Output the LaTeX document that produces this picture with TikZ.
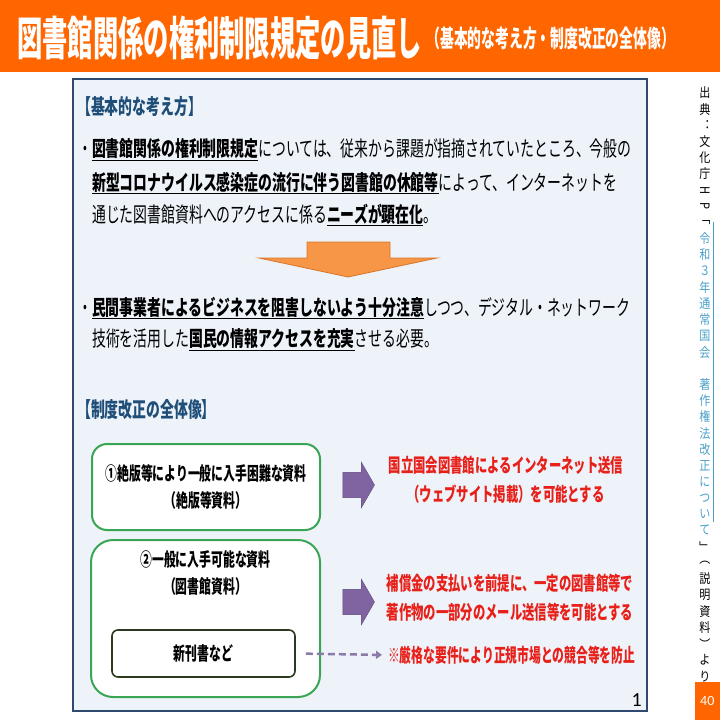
\documentclass[tikz,border=0pt]{standalone}
\usepackage{fontspec}
\usetikzlibrary{arrows.meta,positioning,shapes.arrows,calc}
\setmainfont{Carlito}
\newfontfamily\jpbody[FakeStretch=0.66]{Noto Sans CJK JP}
\newfontfamily\jpbox[FakeStretch=0.64]{Noto Sans CJK JP}
\newfontfamily\jpred[FakeStretch=0.65]{Noto Sans CJK JP}
\newfontfamily\jpnote[FakeStretch=0.62]{Noto Sans CJK JP}
\newfontfamily\jptitle[FakeStretch=0.55]{Noto Sans CJK JP}
\newfontfamily\jpsub[FakeStretch=0.575]{Noto Sans CJK JP}
\newfontfamily\jpside[FakeStretch=0.85]{Noto Sans CJK JP}
\definecolor{SlideOrange}{HTML}{FF6600}
\definecolor{PanelBlue}{HTML}{2F4A6E}
\definecolor{PanelFill}{HTML}{EEF3FA}
\definecolor{HeadBlue}{HTML}{1F4E79}
\definecolor{ArrowOrange}{HTML}{F79646}
\definecolor{ArrowEdge}{HTML}{D9752B}
\definecolor{BoxGreen}{HTML}{3AA655}
\definecolor{BoxOlive}{HTML}{2B3A1E}
\definecolor{ArrowPurple}{HTML}{8064A2}
\definecolor{ArrowPurpleEdge}{HTML}{5F497A}
\definecolor{DashPurple}{HTML}{8C7AA8}
\definecolor{NoteRed}{HTML}{E8201A}
\definecolor{LinkBlue}{HTML}{4A9FC8}
\newcommand{\ulb}[1]{\underline{\textbf{#1}}}

\begin{document}
\begin{tikzpicture}[
      x=1pt,y=-1pt,
      txt/.style={anchor=west,inner sep=0pt,font=\jpbody\fontsize{21}{24}\selectfont},
      head/.style={anchor=west,inner sep=0pt,text=HeadBlue,font=\jpbody\bfseries\fontsize{21}{24}\selectfont},
      gbox/.style={draw=BoxGreen,line width=2pt,fill=white,rounded corners=15pt},
      btxt/.style={align=center,inner sep=0pt,font=\jpbox\bfseries\fontsize{18.5}{27}\selectfont},
      redtxt/.style={align=center,inner sep=0pt,text=NoteRed,font=\jpred\bfseries\fontsize{19}{29}\selectfont},
      blockarrow/.style={single arrow,draw=ArrowPurpleEdge,fill=ArrowPurple,inner sep=12pt,
        minimum width=46pt,minimum height=30pt,single arrow head extend=10pt,single arrow tip angle=120},
      dasharrow/.style={-{Triangle[length=6pt,width=8pt]},DashPurple,line width=2.5pt,dash pattern=on 7pt off 4pt},
      side/.style={inner sep=0pt,font=\jpside\fontsize{13}{13}\selectfont}
    ]
      \useasboundingbox (0,0) rectangle (720,720);
      % header band
      \fill[SlideOrange] (0,0) rectangle (720,72);
      \node[anchor=west,inner sep=0pt,text=white,font=\jptitle\bfseries\fontsize{46}{50}\selectfont] (title) at (17,38) {図書館関係の権利制限規定の見直し};
      \node[anchor=west,inner sep=0pt,text=white,font=\jpsub\bfseries\fontsize{24}{26}\selectfont,right=4pt of title.east] (subtitle) {（基本的な考え方・制度改正の全体像）};

      % main panel
      \node[draw=PanelBlue,line width=1.5pt,fill=PanelFill,minimum width=574pt,minimum height=632pt] (panel) at (360,395) {};
      \node[head] (head1) at (77,107) {【基本的な考え方】};
      \node[txt] (b1a) at (78,150) {・\ulb{図書館関係の権利制限規定}については、従来から課題が指摘されていたところ、今般の};
      \node[txt] (b1b) at (92,183) {\ulb{新型コロナウイルス感染症の流行に伴う図書館の休館等}によって、インターネットを};
      \node[txt] (b1c) at (92,215) {通じた図書館資料へのアクセスに係る\ulb{ニーズが顕在化}。};
      \fill[ArrowOrange,draw=ArrowEdge,line width=0.8pt] (307,242) -- (390,242) -- (390,258) -- (437,258) -- (348,277) -- (259,258) -- (307,258) -- cycle;
      \node[txt] (b2a) at (78,308) {・\ulb{民間事業者によるビジネスを阻害しないよう十分注意}しつつ、デジタル・ネットワーク};
      \node[txt] (b2b) at (92,340) {技術を活用した\ulb{国民の情報アクセスを充実}させる必要。};
      \node[head] (head2) at (77,410) {【制度改正の全体像】};

      % overall picture
      \node[gbox,minimum width=228pt,minimum height=86pt,btxt] (box1) at (206,487) {①絶版等により一般に入手困難な資料\\（絶版等資料）};
      \node[gbox,rounded corners=22pt,minimum width=229pt,minimum height=157pt] (box2) at (205.5,618.5) {};
      \node[btxt,below=11pt of box2.north] (box2t) {②一般に入手可能な資料\\（図書館資料）};
      \node[draw=BoxOlive,line width=1.6pt,fill=white,rounded corners=6pt,minimum width=183pt,minimum height=47pt,
        font=\jpbox\bfseries\fontsize{18.5}{20}\selectfont] (newbook) at (203.5,653.5) {新刊書など};
      \node[redtxt] (red1) at (506,480) {国立国会図書館によるインターネット送信\\（ウェブサイト掲載）を可能とする};
      \node[redtxt] (red2) at (510,597.5) {補償金の支払いを前提に、一定の図書館等で\\著作物の一部分のメール送信等を可能とする};
      \node[redtxt,font=\jpnote\bfseries\fontsize{19}{22}\selectfont,anchor=west] (note) at (388,655) {※厳格な要件により正規市場との競合等を防止};
      \node[blockarrow] (arr1) at (355,485) {};
      \node[blockarrow] (arr2) at (355,602) {};
      \draw[dasharrow,shorten <=10pt,shorten >=6pt] (newbook.east) -- (note.west);
      \node[anchor=south east,inner sep=0pt,font=\fontsize{20}{22}\selectfont] (pageno) at (642,707) {1};

      % source, set vertically
      \foreach \ch [count=\i] in {出,典,︓,文,化,庁,\rotatebox{-90}{H},\rotatebox{-90}{P},﹁}
        \node[side] at (705,93+16.2*\i-16.2) {\ch};
      \foreach \ch [count=\i from 10] in {令,和,３,年,通,常,国,会,{},著,作,権,法,改,正,に,つ,い,て}
        \node[side,text=LinkBlue] at (705,93+16.2*\i-16.2) {\ch};
      \foreach \ch [count=\i from 29] in {﹂,︵,説,明,資,料,︶,よ,り}
        \node[side] at (705,93+16.2*\i-16.2) {\ch};
      \draw[LinkBlue,line width=0.8pt] (713.5,222) -- (713.5,522);
      \node[fill=SlideOrange,text=white,minimum width=25pt,minimum height=38pt,anchor=north east,
        font=\fontsize{14}{16}\selectfont] (slideno) at (720,682) {40};
    \end{tikzpicture}
\end{document}
